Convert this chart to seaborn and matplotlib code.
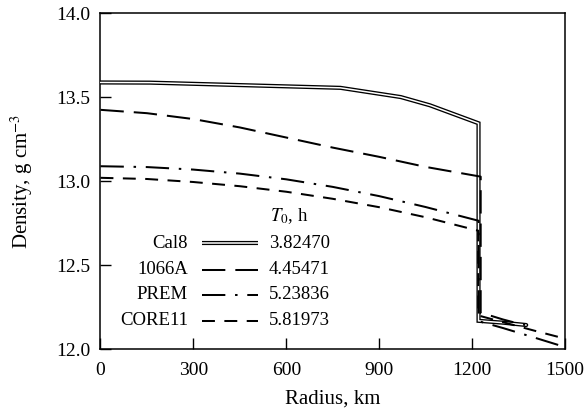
import matplotlib
matplotlib.use("Agg")
import matplotlib.pyplot as plt
import seaborn as sns
import pandas as pd

# ---------------- data ----------------
cal8_r = [0, 160, 775, 970, 1064, 1221, 1221, 1300, 1375]
cal8_rho = [13.588, 13.587, 13.556, 13.501, 13.452, 13.345, 12.168, 12.157, 12.143]

a1066_r = [0, 150, 300, 450, 600, 750, 900, 1050, 1228, 1228, 1263, 1300, 1333, 1371]
a1066_rho = [13.425, 13.405, 13.370, 13.320, 13.260, 13.200, 13.145, 13.085, 13.027,
             12.215, 12.197, 12.176, 12.160, 12.143]

prem_r = [0, 150, 300, 450, 600, 750, 900, 1050, 1221.5, 1221.5, 1300, 1400, 1500]
prem_rho = [13.089, 13.084, 13.069, 13.045, 13.011, 12.966, 12.911, 12.846, 12.764,
            12.166, 12.125, 12.069, 12.012]

core11_r = [0, 150, 300, 450, 600, 750, 900, 1050, 1220, 1220, 1300, 1400, 1500]
core11_rho = [13.020, 13.013, 12.995, 12.970, 12.937, 12.895, 12.845, 12.785, 12.705,
              12.200, 12.160, 12.110, 12.062]

models = ["Cal8", "1066A", "PREM", "CORE11"]
periods = ["3.82470", "4.45471", "5.23836", "5.81973"]

x_ticks = [0, 300, 600, 900, 1200, 1500]
y_ticks = [12.0, 12.5, 13.0, 13.5, 14.0]

# ---------------- style ----------------
sns.set_theme(style="ticks")
plt.rcParams["font.family"] = ["Liberation Serif", "DejaVu Serif"]
plt.rcParams["mathtext.fontset"] = "stix"
plt.rcParams["lines.scale_dashes"] = False
plt.rcParams["lines.solid_joinstyle"] = "miter"

fig = plt.figure(figsize=(5.86, 4.16), dpi=100)
ax = fig.add_axes([0.1715, 0.161, 0.7925, 0.807])

LW = 1.45
styles = {
    "1066A": (0, (16.8, 7.2)),
    "PREM": (0, (16.8, 7.0, 1.8, 7.0)),
    "CORE11": (0, (9.3, 6.8)),
}

frames = {
    "Cal8": pd.DataFrame({"r": cal8_r, "rho": cal8_rho}),
    "1066A": pd.DataFrame({"r": a1066_r, "rho": a1066_rho}),
    "PREM": pd.DataFrame({"r": prem_r, "rho": prem_rho}),
    "CORE11": pd.DataFrame({"r": core11_r, "rho": core11_rho}),
}

# Cal8: double line (thick black with white core)
sns.lineplot(data=frames["Cal8"], x="r", y="rho", estimator=None, sort=False,
             ax=ax, color="black", lw=3.0, zorder=3)
sns.lineplot(data=frames["Cal8"], x="r", y="rho", estimator=None, sort=False,
             ax=ax, color="white", lw=1.1, zorder=3.1)
for m in ["1066A", "PREM", "CORE11"]:
    sns.lineplot(data=frames[m], x="r", y="rho", estimator=None, sort=False,
                 ax=ax, color="black", lw=LW, linestyle=styles[m], zorder=4)

ax.set_xlim(0, 1500)
ax.set_ylim(12.0, 14.0)
ax.set_xticks(x_ticks)
ax.set_xticklabels([str(t) for t in x_ticks])
ax.set_yticks(y_ticks)
ax.set_yticklabels([f"{t:.1f}" for t in y_ticks])
ax.tick_params(axis="both", direction="in", length=8, width=1.0, colors="black",
               labelsize=14, pad=7.5)
ax.tick_params(axis="x", pad=9)
for s in ax.spines.values():
    s.set_visible(True)
    s.set_color("black")
    s.set_linewidth(1.1)

ax.set_xlabel("Radius, km", fontsize=15, color="black", labelpad=8)
ax.set_ylabel("Density, g cm$^{-3}$", fontsize=15, color="black", labelpad=15)

# ---------------- legend (hand-built to match layout) ----------------
rows_y = [0.315, 0.236, 0.161, 0.084]
x_name = 0.188
x_l0, x_l1 = 0.218, 0.339
x_val = 0.362
fs_leg = 13.5
ax.text(0.364, 0.397, "$T_0$, h", transform=ax.transAxes, fontsize=fs_leg,
        ha="left", va="center", color="black")
for i, m in enumerate(models):
    y = rows_y[i]
    ax.text(x_name, y, m, transform=ax.transAxes, fontsize=fs_leg,
            ha="right", va="center", color="black")
    ax.text(x_val, y, periods[i], transform=ax.transAxes, fontsize=fs_leg,
            ha="left", va="center", color="black")
    if m == "Cal8":
        ax.plot([x_l0, x_l1], [y, y], transform=ax.transAxes, color="black",
                lw=3.0, solid_capstyle="butt")
        ax.plot([x_l0, x_l1], [y, y], transform=ax.transAxes, color="white",
                lw=1.1, solid_capstyle="butt")
    else:
        ax.plot([x_l0, x_l1], [y, y], transform=ax.transAxes, color="black",
                lw=LW, linestyle=styles[m])

fig.savefig("out.png", dpi=100)
